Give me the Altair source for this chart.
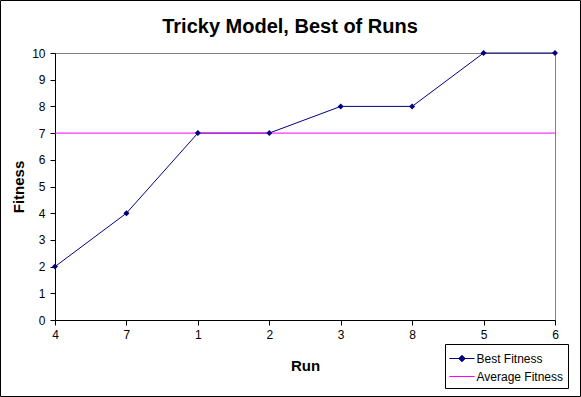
import altair as alt
import pandas as pd

# ---- data ----
runs = ["4", "7", "1", "2", "3", "8", "5", "6"]
best_fitness = [2, 4, 7, 7, 8, 8, 10, 10]
average_fitness = [7]
series_names = ["Best Fitness", "Average Fitness"]
series_colors = ["#000080", "#FF00FF"]
legend_shapes = [
    "M-1.4,0L1.4,0M0,-0.36L0.36,0L0,0.36L-0.36,0Z",
    "M-1.4,0L1.4,0",
]
y_ticks = [0, 1, 2, 3, 4, 5, 6, 7, 8, 9, 10]

FONT = "Liberation Sans"

best_df = pd.DataFrame({"Run": runs, "Fitness": best_fitness})
avg_df = pd.DataFrame({"Fitness": average_fitness})
leg_df = pd.DataFrame({"series": series_names})

x_enc = alt.X(
    "Run:N",
    sort=runs,
    scale=alt.Scale(type="point", padding=0),
    axis=alt.Axis(
        title="Run", labelAngle=0, labelFontSize=12, labelFont=FONT,
        labelColor="black", tickColor="black", domainColor="black",
        tickSize=5, labelPadding=4, titleFont=FONT, titleFontSize=15,
        titleFontWeight="bold", titleColor="black",
        titleX=250, titleY=45, titleBaseline="middle", titleAlign="center",
        grid=False, labelOverlap=False,
    ),
)
y_scale = alt.Scale(domain=[0, 10], nice=False)
y_axis = alt.Axis(
    title="Fitness", values=y_ticks, tickCount=11, labelFontSize=12, labelFont=FONT,
    labelColor="black", tickColor="black", domainColor="black", tickSize=5,
    labelPadding=5, titleFont=FONT, titleFontSize=15, titleFontWeight="bold",
    titleColor="black", titleX=-37, titleY=133.5, titleAngle=270,
    titleAlign="center", titleBaseline="middle", grid=False, labelOverlap=False,
    labelFlush=False,
)
y_enc = alt.Y("Fitness:Q", scale=y_scale, axis=y_axis)

line = alt.Chart(best_df).mark_line(color="#000080", strokeWidth=1).encode(x=x_enc)
avg_rule = alt.Chart(avg_df).mark_rule(color="#FF00FF", strokeWidth=1)
pts = alt.Chart(best_df).mark_point(
    shape="diamond", filled=True, color="#000080", size=36, opacity=1
).encode(x=x_enc)

legend_cfg = alt.Legend(
    title=None, orient="none", legendX=390, legendY=291,
    labelFont=FONT, labelFontSize=12, labelColor="black",
    strokeColor="black", fillColor="white", padding=5, rowPadding=2,
    symbolOffset=2.5, labelOffset=5, symbolSize=324, symbolStrokeWidth=1,
    cornerRadius=0,
)
leg = alt.Chart(leg_df).mark_point(size=324, strokeWidth=1, opacity=1).encode(
    fill=alt.Fill("series:N", scale=alt.Scale(domain=series_names, range=series_colors), legend=legend_cfg),
    stroke=alt.Stroke("series:N", scale=alt.Scale(domain=series_names, range=series_colors), legend=legend_cfg),
    shape=alt.Shape("series:N", scale=alt.Scale(domain=series_names, range=legend_shapes), legend=legend_cfg),
).transform_filter("false")

frame = alt.Chart(pd.DataFrame({"a": [0]})).mark_rect(
    fill="transparent", stroke="black", strokeWidth=1
).encode(
    x=alt.value(-54.5), x2=alt.value(525.5), y=alt.value(-52.5), y2=alt.value(343.5)
)

chart = alt.layer(line, avg_rule, pts, leg, frame).encode(y=y_enc).properties(
    width=500,
    height=267,
    title=alt.Title(
        "Tricky Model, Best of Runs", font=FONT, fontSize=20, fontWeight="bold",
        color="black", anchor="middle", dx=-15, offset=-52.5, baseline="alphabetic",
    ),
    autosize=alt.AutoSizeParams(type="none"),
    padding={"left": 55, "top": 53, "right": 26, "bottom": 77},
    background="white",
).configure_view(stroke="#808080", strokeWidth=1).configure_axisY(tickCount=11)

chart.save("out.html", embed_options={"renderer": "svg", "actions": False})
